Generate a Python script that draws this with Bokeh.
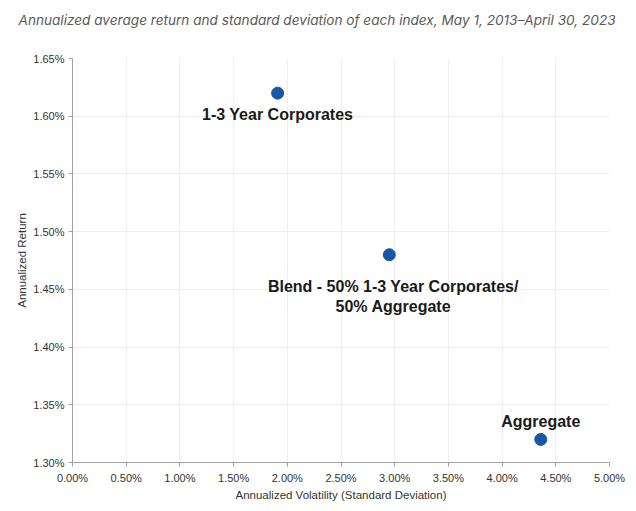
from bokeh.plotting import figure
from bokeh.models import ColumnDataSource, PrintfTickFormatter, FixedTicker, LabelSet, Title
from bokeh.core.properties import value
from bokeh.embed import file_html
from bokeh.resources import INLINE

title_text = "Annualized average return and standard deviation of each index, May 1, 2013\u2013April 30, 2023"

# Annualized figures (percent)
names = ["1-3 Year Corporates", "Blend - 50% 1-3 Year Corporates/\n50% Aggregate", "Aggregate"]
volatility = [1.91, 2.95, 4.36]
returns = [1.62, 1.48, 1.32]

x_ticks = [0.0, 0.5, 1.0, 1.5, 2.0, 2.5, 3.0, 3.5, 4.0, 4.5, 5.0]
y_ticks = [1.30, 1.35, 1.40, 1.45, 1.50, 1.55, 1.60, 1.65]

# label offsets per point (screen pixels), for the first line of each name
label_dx = [0, 4, 0]
label_dy = [-21, -32, 18]
line_gap = 20

pts = ColumnDataSource(dict(x=volatility, y=returns))

# one row per text line so that every line is centred on its point
lx, ly, lt, ldx, ldy = [], [], [], [], []
for x, y, name, dx, dy in zip(volatility, returns, names, label_dx, label_dy):
    for i, line in enumerate(name.split("\n")):
        lx.append(x); ly.append(y); lt.append(line)
        ldx.append(dx); ldy.append(dy - i * line_gap)
lab = ColumnDataSource(dict(x=lx, y=ly, text=lt, dx=ldx, dy=ldy))

p = figure(width=636, height=511, output_backend="svg", toolbar_location=None,
           x_range=(0, 5), y_range=(1.30, 1.65),
           min_border_left=72, min_border_right=27, min_border_bottom=49, min_border_top=58)
p.title = None
# the blank second line keeps the heading higher above the plot area
p.add_layout(Title(text=title_text + "\n ", text_font="Inter", text_font_style="italic",
                   text_font_size="13.6px", text_color="#5a5a5a", text_line_height=1.2,
                   align="left", vertical_align="top", offset=-54, standoff=20), "above")
p.outline_line_color = None
p.background_fill_color = "white"

p.scatter("x", "y", source=pts, size=12, color="#1857a4")

labels = LabelSet(x="x", y="y", text="text", source=lab, x_offset="dx", y_offset="dy",
                  text_align="center", text_baseline="middle",
                  text_font=value("Liberation Sans"), text_font_style="bold",
                  text_font_size="16px", text_color="#1a1a1a")
p.add_layout(labels)

for ax in (p.xaxis[0], p.yaxis[0]):
    ax.axis_line_color = "#a0a0a0"
    ax.major_tick_line_color = "#a0a0a0"
    ax.major_tick_out = 4
    ax.major_tick_in = 0
    ax.minor_tick_line_color = None
    ax.major_label_text_font = "Liberation Sans"
    ax.major_label_text_font_size = "11px"
    ax.major_label_text_color = "#333333"
    ax.axis_label_text_font = "Liberation Sans"
    ax.axis_label_text_font_size = "11.5px"
    ax.axis_label_text_font_style = "normal"
    ax.axis_label_text_color = "#333333"

p.xaxis.ticker = FixedTicker(ticks=x_ticks)
p.yaxis.ticker = FixedTicker(ticks=y_ticks)
p.xaxis.formatter = PrintfTickFormatter(format="%.2f%%")
p.yaxis.formatter = PrintfTickFormatter(format="%.2f%%")
p.xaxis.axis_label = "Annualized Volatility (Standard Deviation)"
p.yaxis.axis_label = "Annualized Return"
p.xaxis.major_label_standoff = 5
p.xaxis.axis_label_standoff = 2
p.yaxis.major_label_standoff = 4
p.yaxis.axis_label_standoff = 2

p.xgrid.ticker = FixedTicker(ticks=x_ticks)
p.ygrid.ticker = FixedTicker(ticks=y_ticks)
p.grid.grid_line_color = "#eeeeee"
p.grid.grid_line_width = 1

open("out.html", "w").write(file_html(p, INLINE))
